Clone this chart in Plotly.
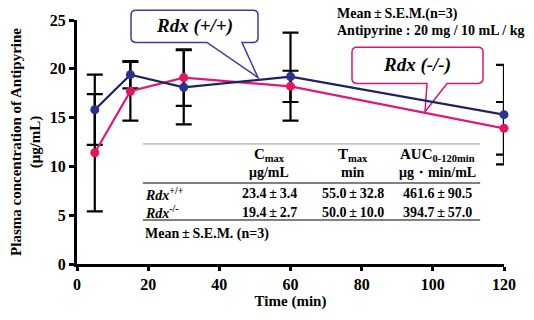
import plotly.graph_objects as go

# ---- data ----
time_min = [5, 15, 30, 60, 120]
wt_mean = [15.8, 19.4, 18.1, 19.2, 15.3]
wt_sem = [3.6, 1.4, 3.8, 4.5, 5.1]
ko_mean = [11.4, 17.7, 19.1, 18.2, 13.9]
ko_sem = [6.0, 3.0, 2.9, 1.6, 2.7]

PM = "\u2009±\u2009"
table_cols = ["C<sub>max</sub>", "T<sub>max</sub>", "AUC<sub>0-120min</sub>"]
table_units = ["μg/mL", "min", "μg・min/mL"]
table_rows = ["<i>Rdx</i><sup>+/+</sup>", "<i>Rdx</i><sup>-/-</sup>"]
table_vals = [["23.4±3.4", "55.0±32.8", "461.6±90.5"],
              ["19.4±2.7", "50.0±10.0", "394.7±57.0"]]

NAVY_L = "#1e2260"
NAVY_M = "#2b3190"
PINK_L = "#e0187a"
PINK_M = "#e6145a"
FONT = "Liberation Serif, Times New Roman, serif"

fig = go.Figure()

# error bars (behind)
for m, s in [(wt_mean, wt_sem), (ko_mean, ko_sem)]:
    fig.add_trace(go.Scatter(
        x=time_min, y=m, mode="markers", marker=dict(opacity=0, size=1),
        error_y=dict(type="data", array=s, visible=True, color="black",
                     thickness=2.2, width=8),
        showlegend=False, hoverinfo="skip", cliponaxis=False))

fig.add_trace(go.Scatter(x=time_min, y=ko_mean, mode="lines+markers",
                         line=dict(color=PINK_L, width=2.2),
                         marker=dict(color=PINK_M, size=9),
                         showlegend=False, cliponaxis=False))
fig.add_trace(go.Scatter(x=time_min, y=wt_mean, mode="lines+markers",
                         line=dict(color=NAVY_L, width=2.2),
                         marker=dict(color=NAVY_M, size=9),
                         showlegend=False, cliponaxis=False))

# ---- layout geometry helpers (pixel -> paper) ----
L, R, T, B = 77, 30, 19, 51
W, H = 534, 320
PW, PH = W - L - R, H - T - B


def px(xp):
    return (xp - L) / PW


def py(yp):
    return (H - B - yp) / PH


def bubble(x0, x1, top, bot, tl, tr, tip, r=5):
    f = lambda a, b: f"{px(a):.4f},{py(b):.4f}"
    p = f"M {f(x0 + r, top)} L {f(x1 - r, top)} Q {f(x1, top)} {f(x1, top + r)} "
    p += f"L {f(x1, bot - r)} Q {f(x1, bot)} {f(x1 - r, bot)} "
    p += f"L {f(tr, bot)} L {f(tip[0], tip[1])} L {f(tl, bot)} "
    p += f"L {f(x0 + r, bot)} Q {f(x0, bot)} {f(x0, bot - r)} "
    p += f"L {f(x0, top + r)} Q {f(x0, top)} {f(x0 + r, top)} Z"
    return p


shapes = [
    dict(type="path", xref="paper", yref="paper",
         path=bubble(131, 258, 9, 42, 207, 242, (258, 78)),
         line=dict(color="#3a3aa0", width=1.5), fillcolor="white", layer="below"),
    dict(type="path", xref="paper", yref="paper",
         path=bubble(352, 483, 47, 84, 427, 447, (425, 113)),
         line=dict(color="#d8157c", width=1.5), fillcolor="rgba(255,255,255,0)", layer="below"),
]

# table lines (data coords)
tx0, tx1 = 18.5, 113.3
for yv, w, c in [(12.3, 1, "#9a9a9a"), (8.3, 2, "#808080"), (4.5, 2, "#808080")]:
    shapes.append(dict(type="line", xref="x", yref="y", x0=tx0, x1=tx1, y0=yv, y1=yv,
                       line=dict(color=c, width=w), layer="below"))

ann = []
col_x = [54.0, 77.6, 101.2]
TS = 14
for cx, h, u in zip(col_x, table_cols, table_units):
    ann.append(dict(x=cx, y=11.2, xref="x", yref="y", text=f"<b>{h}</b>", showarrow=False,
                    xanchor="center", yanchor="middle", font=dict(size=TS + 1)))
    ann.append(dict(x=cx, y=9.4, xref="x", yref="y", text=f"<b>{u}</b>", showarrow=False,
                    xanchor="center", yanchor="middle", font=dict(size=TS)))
for ry, lab, vals in zip([7.2, 5.3], table_rows, table_vals):
    ann.append(dict(x=tx0, y=ry, xref="x", yref="y", text=f"<b>{lab}</b>", showarrow=False,
                    xanchor="left", yanchor="middle", font=dict(size=TS)))
    for cx, v in zip(col_x, vals):
        ann.append(dict(x=cx, y=ry, xref="x", yref="y", text=f"<b>{v.replace('±', PM)}</b>",
                        showarrow=False, xanchor="center", yanchor="middle",
                        font=dict(size=TS)))
ann.append(dict(x=tx0, y=3.1, xref="x", yref="y", text=f"<b>Mean{PM}S.E.M. (n=3)</b>",
                showarrow=False, xanchor="left", yanchor="middle", font=dict(size=TS)))

ann.append(dict(x=px(194), y=py(25), xref="paper", yref="paper", xanchor="center",
                yanchor="middle", text="<b><i>Rdx (+/+)</i></b>", showarrow=False,
                font=dict(size=19)))
ann.append(dict(x=px(417), y=py(65), xref="paper", yref="paper", xanchor="center",
                yanchor="middle", text="<b><i>Rdx (-/-)</i></b>", showarrow=False,
                font=dict(size=19)))
ann.append(dict(x=px(335), y=py(13), xref="paper", yref="paper", xanchor="left",
                yanchor="middle", text=f"<b>Mean{PM}S.E.M.(n=3)</b>", showarrow=False,
                font=dict(size=14)))
ann.append(dict(x=px(335), y=py(30), xref="paper", yref="paper", xanchor="left",
                yanchor="middle", text="<b>Antipyrine : 20 mg / 10 mL / kg</b>",
                showarrow=False, font=dict(size=14)))

fig.update_layout(
    width=W, height=H, margin=dict(l=L, r=R, t=T, b=B),
    paper_bgcolor="white", plot_bgcolor="white",
    font=dict(family=FONT, color="black", size=14),
    shapes=shapes, annotations=ann,
    xaxis=dict(range=[0, 120], tickvals=[0, 20, 40, 60, 80, 100, 120],
               showline=True, linecolor="black", linewidth=3, showgrid=False,
               zeroline=False, ticks="outside", ticklen=4, tickwidth=3,
               tickcolor="black", tickfont=dict(size=16, weight="bold"),
               title=dict(text="<b>Time (min)</b>", font=dict(size=15), standoff=4)),
    yaxis=dict(range=[0, 25], tickvals=[0, 5, 10, 15, 20, 25],
               showline=True, linecolor="black", linewidth=3, showgrid=False,
               zeroline=False, ticks="outside", ticklen=5, tickwidth=3,
               tickcolor="black", tickfont=dict(size=16, weight="bold"),
               title=dict(text="<b>Plasma concentration of Antipyrine<br>(μg/mL)</b>",
                          font=dict(size=15), standoff=6)),
)

fig.write_html("out.html")
